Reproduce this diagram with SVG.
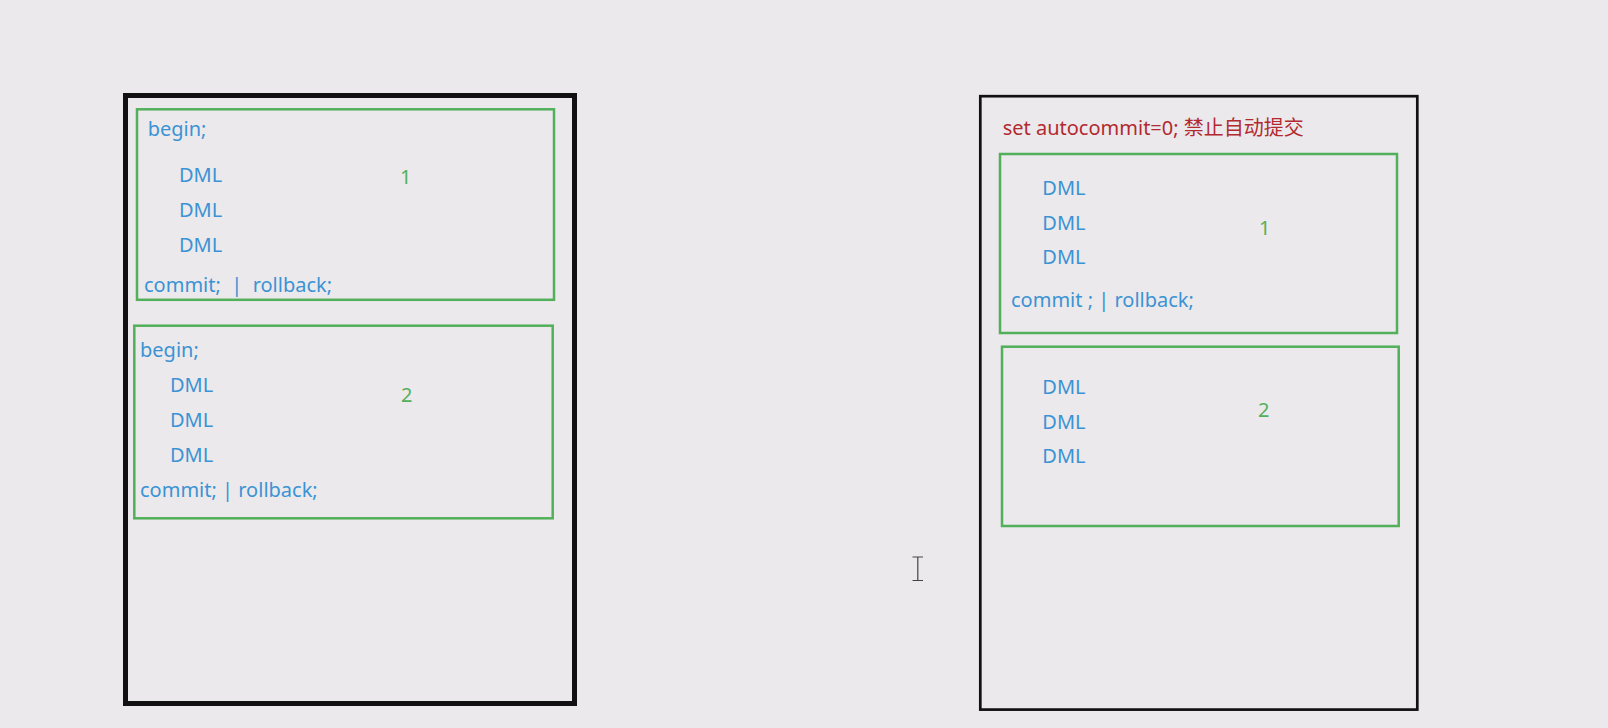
<svg xmlns="http://www.w3.org/2000/svg" width="1608" height="728" viewBox="0 0 1608 728">
<style>
.bg{fill:#ebe9ec}
.outer{fill:none;stroke:#111111}
.grp{fill:none;stroke:#52b05a;stroke-width:2.5}
.t{font-family:"Noto Sans","Noto Sans CJK SC",sans-serif;font-size:20px;fill:#3b93d4;white-space:pre}
.n{font-family:"Noto Sans",sans-serif;font-size:20px;fill:#52b05a}
.r{font-family:"Noto Sans","Noto Sans CJK SC",sans-serif;font-size:20px;fill:#b22a30}
</style>
<rect class="bg" x="0" y="0" width="1608" height="728"/>
<g id="left-session">
<rect class="outer" x="125.5" y="95.5" width="449" height="608" stroke-width="5"/>
</g>
<g id="left-tx1">
<rect class="grp" x="137" y="109.3" width="417" height="190.5"/>
<text class="t" x="147.7" y="135.7">begin;</text>
<text class="t" x="179" y="182">DML</text>
<text class="t" x="179" y="216.7">DML</text>
<text class="t" x="179" y="251.7">DML</text>
<text class="t" x="144" y="291.7" xml:space="preserve">commit;  |  rollback;</text>
<text class="n" x="400" y="184">1</text>
</g>
<g id="left-tx2">
<rect class="grp" x="134.3" y="325.7" width="418.4" height="192.6"/>
<text class="t" x="140" y="356.7">begin;</text>
<text class="t" x="170" y="391.7">DML</text>
<text class="t" x="170" y="426.7">DML</text>
<text class="t" x="170" y="461.7">DML</text>
<text class="t" x="140" y="496.7">commit; | rollback;</text>
<text class="n" x="401" y="401.7">2</text>
</g>
<g id="right-session">
<rect class="outer" x="980.3" y="96.2" width="437" height="613.4" stroke-width="2.7"/>
<text class="r" x="1002.7" y="135">set autocommit=0; 禁止自动提交</text>
</g>
<g id="right-tx1">
<rect class="grp" x="1000" y="154" width="397" height="179"/>
<text class="t" x="1042.3" y="195">DML</text>
<text class="t" x="1042.3" y="230">DML</text>
<text class="t" x="1042.3" y="264.3">DML</text>
<text class="t" x="1011" y="306.7">commit ; | rollback;</text>
<text class="n" x="1259" y="235">1</text>
</g>
<g id="right-tx2">
<rect class="grp" x="1002" y="346.7" width="396.7" height="179.3"/>
<text class="t" x="1042.3" y="394">DML</text>
<text class="t" x="1042.3" y="428.7">DML</text>
<text class="t" x="1042.3" y="463.3">DML</text>
<text class="n" x="1258" y="417.3">2</text>
</g>
<g id="connectors"></g>
<path d="M912.5 557 H923 M917.8 557 V580.5 M912.5 580.5 H923" fill="none" stroke="#444" stroke-width="1.2"/>
</svg>
